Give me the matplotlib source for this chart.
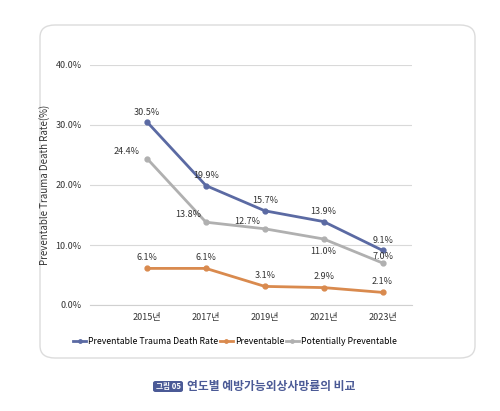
import matplotlib
matplotlib.use("Agg")
import matplotlib.pyplot as plt
from matplotlib.patches import FancyBboxPatch

plt.rcParams['font.family'] = ['Noto Sans CJK KR', 'DejaVu Sans']

years = ['2015년', '2017년', '2019년', '2021년', '2023년']
total = [30.5, 19.9, 15.7, 13.9, 9.1]
prev = [6.1, 6.1, 3.1, 2.9, 2.1]
pot = [24.4, 13.8, 12.7, 11.0, 7.0]

W, H = 500, 411
fig = plt.figure(figsize=(W/100, H/100), dpi=100)
fig.patch.set_facecolor('white')
panel = FancyBboxPatch((40/W, 1-358/H), 435/W, 333/H, boxstyle="round,pad=0,rounding_size=0.03",
                       transform=fig.transFigure, facecolor='white', edgecolor='#dcdcdc', lw=1, zorder=-10)
fig.patches.append(panel)

ax = fig.add_axes([90/W, 1-305/H, 322/W, 240/H])
ax.patch.set_alpha(0)
x = list(range(len(years)))
c1, c2, c3 = '#5b6aa3', '#d98a4e', '#b0b0b0'
ax.plot(x, total, color=c1, lw=2, marker='o', ms=3.5, label='Preventable Trauma Death Rate')
ax.plot(x, prev, color=c2, lw=2, marker='o', ms=3.5, label='Preventable')
ax.plot(x, pot, color=c3, lw=2, marker='o', ms=3.5, label='Potentially Preventable')
for xs, v in zip(x, total):
    ax.text(xs, v + 0.9, f'{v}%', ha='center', va='bottom', fontsize=6.5, color='#333')
for xs, v in zip(x, prev):
    ax.text(xs, v + 1.1, f'{v}%', ha='center', va='bottom', fontsize=6.5, color='#333')
offs = [(-0.35, 0.5), (-0.3, 0.5), (-0.3, 0.5), (0, -2.8), (0, 0.3)]
for xs, v, (dx, dy) in zip(x, pot, offs):
    ax.text(xs + dx, v + dy, f'{v}%', ha='center', va='bottom', fontsize=6.5, color='#333')

ax.set_xlim(-0.97, 4.5)
ax.set_ylim(0, 40)
ax.set_yticks([0, 10, 20, 30, 40])
ax.set_yticklabels([f'{t:.1f}%' for t in [0, 10, 20, 30, 40]], fontsize=6.5, color='#333')
ax.set_xticks(x)
ax.set_xticklabels(years, fontsize=6.5, color='#333')
ax.grid(axis='y', color='#d9d9d9', lw=0.8)
ax.set_axisbelow(True)
for s in ['top', 'right', 'left']:
    ax.spines[s].set_visible(False)
ax.spines['bottom'].set_color('#d0d0d0')
ax.tick_params(length=0, pad=6)
ax.set_ylabel('Preventable Trauma Death Rate(%)', fontsize=7, color='#333', labelpad=4)
ax.legend(loc='upper center', bbox_to_anchor=(0.45, -0.1), ncol=3, frameon=False, fontsize=6.3,
          handlelength=1.5, columnspacing=0.2, handletextpad=0.2, markerscale=0.7)

fig.add_artist(FancyBboxPatch((153/W, 1-392/H), 30/W, 11/H, boxstyle="round,pad=0,rounding_size=0.005",
                              transform=fig.transFigure, facecolor='#4b5a96', edgecolor='none'))
fig.text(168/W, 1-386.5/H, '그림 05', color='white', fontsize=5.5, ha='center', va='center', fontweight='bold')
fig.text(187/W, 1-386.5/H, '연도별 예방가능외상사망률의 비교', color='#4b5a96', fontsize=8.5, ha='left', va='center', fontweight='bold')

fig.savefig('out.png', dpi=100)
